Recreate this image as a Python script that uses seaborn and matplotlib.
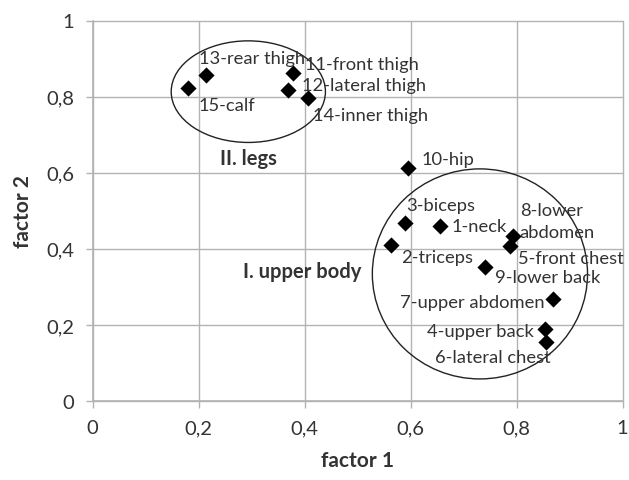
import matplotlib.pyplot as plt
import seaborn as sns
import numpy as np
import pandas as pd
from matplotlib.patches import Ellipse
from matplotlib.ticker import FuncFormatter

# factor loadings
labels = ['1-neck', '2-triceps', '3-biceps', '4-upper back', '5-front chest',
          '6-lateral chest', '7-upper abdomen', '8-lower\nabdomen', '9-lower back',
          '10-hip', '11-front thigh', '12-lateral thigh', '13-rear thigh',
          '14-inner thigh', '15-calf']
factor1 = [0.656, 0.564, 0.590, 0.853, 0.787, 0.856, 0.869, 0.793, 0.741,
           0.596, 0.378, 0.368, 0.214, 0.407, 0.180]
factor2 = [0.459, 0.410, 0.468, 0.189, 0.408, 0.154, 0.268, 0.433, 0.351,
           0.612, 0.862, 0.818, 0.858, 0.796, 0.822]

ticks = [0, 0.2, 0.4, 0.6, 0.8, 1]

# label offsets in pixels (dx, dy, horizontal alignment)
offsets = {
    '1-neck': (11, 0, 'left'), '2-triceps': (10, -12, 'left'),
    '3-biceps': (1, 18, 'left'), '4-upper back': (-11, -2, 'right'),
    '5-front chest': (8, -12, 'left'), '6-lateral chest': (5, -15, 'right'),
    '7-upper abdomen': (-8, -3, 'right'), '8-lower\nabdomen': (7, 15, 'left'),
    '9-lower back': (10, -10, 'left'), '10-hip': (13, 9, 'left'),
    '11-front thigh': (12, 9, 'left'), '12-lateral thigh': (14, 5, 'left'),
    '13-rear thigh': (-7, 17, 'left'), '14-inner thigh': (5, -17, 'left'),
    '15-calf': (11, -17, 'left'),
}

df = pd.DataFrame({'label': labels, 'factor 1': factor1, 'factor 2': factor2})

sns.set_style('white')
plt.rcParams['font.family'] = ['Lato', 'DejaVu Sans']
grey = '#b3b3b3'
txt = '#333333'

fig = plt.figure(figsize=(6.29, 4.81), dpi=100)
ax = fig.add_axes([92.5 / 629, 1 - 402 / 481, (622.5 - 92.5) / 629, (402 - 21.5) / 481])

sns.scatterplot(data=df, x='factor 1', y='factor 2', marker='D', s=68,
                color='black', edgecolor='black', linewidth=0, ax=ax, zorder=3)

for _, r in df.iterrows():
    dx, dy, ha = offsets[r['label']]
    ax.annotate(r['label'], (r['factor 1'], r['factor 2']), xytext=(dx * 0.72, dy * 0.72),
                textcoords='offset points', ha=ha, va='center', fontsize=13.2,
                color=txt, linespacing=1.5, zorder=4)

ax.add_patch(Ellipse((0.294, 0.813), 0.291, 0.267, fill=False, edgecolor='#222222', lw=1.0, zorder=2))
ax.add_patch(Ellipse((0.731, 0.334), 0.406, 0.552, fill=False, edgecolor='#222222', lw=1.0, zorder=2))
ax.text(0.294, 0.638, 'II. legs', ha='center', va='center', fontsize=14.5,
        fontweight='bold', color=txt)
ax.text(0.396, 0.342, 'I. upper body', ha='center', va='center', fontsize=14.5,
        fontweight='bold', color=txt)

ax.set_xlim(0, 1)
ax.set_ylim(0, 1)
ax.set_xticks(ticks)
ax.set_yticks(ticks)
fmt = FuncFormatter(lambda v, p: ('%g' % v).replace('.', ','))
ax.xaxis.set_major_formatter(fmt)
ax.yaxis.set_major_formatter(fmt)
ax.grid(True, color=grey, lw=1.0)
ax.set_axisbelow(True)
for side in ['top', 'right']:
    ax.spines[side].set_visible(False)
for side in ['left', 'bottom']:
    ax.spines[side].set_color(grey)
    ax.spines[side].set_linewidth(1.2)
ax.tick_params(axis='both', length=5, width=1, color=grey, labelsize=14.5,
               labelcolor=txt, pad=8, direction='out', left=True, bottom=True)
ax.set_xlabel('factor 1', fontsize=15, fontweight='bold', color=txt, labelpad=10)
ax.set_ylabel('factor 2', fontsize=15, fontweight='bold', color=txt, labelpad=10)
for t in ax.get_xgridlines() + ax.get_ygridlines():
    t.set_clip_on(False)

fig.savefig('out.png', dpi=100)
